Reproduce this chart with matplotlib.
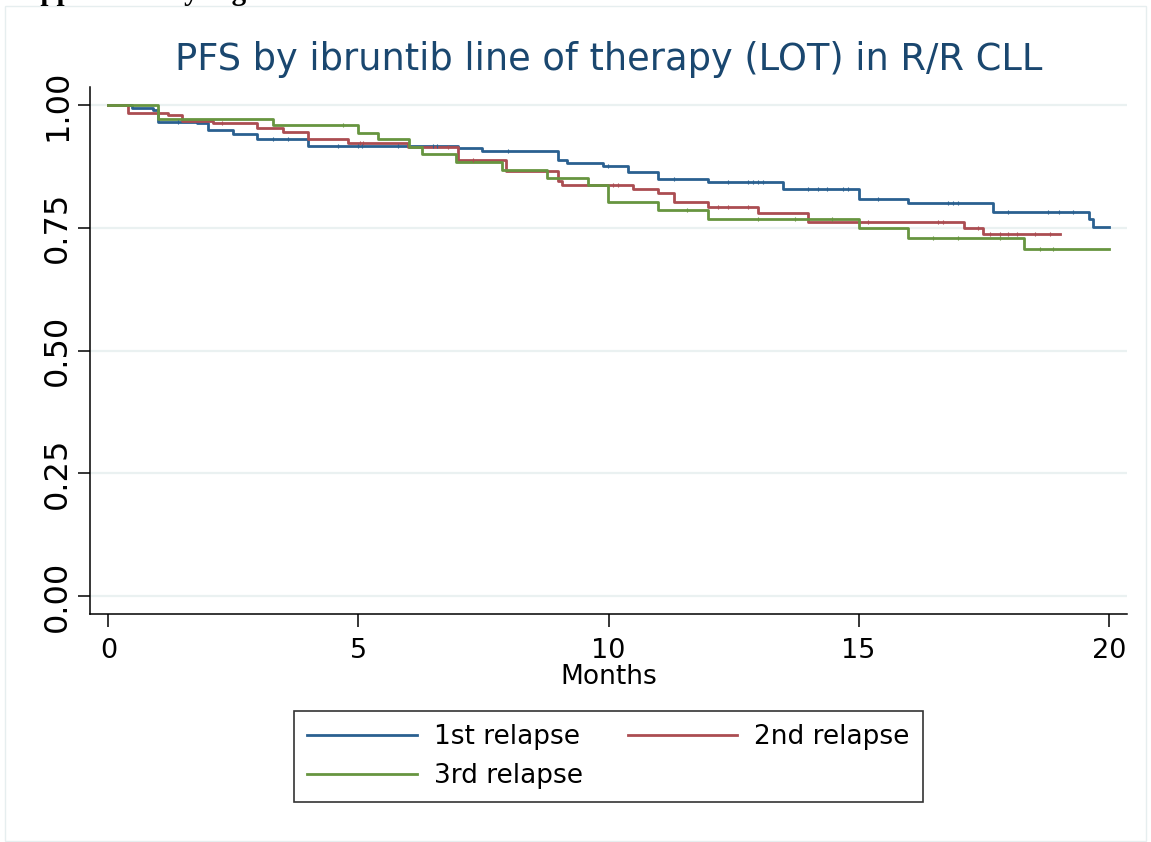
import numpy as np
import matplotlib.pyplot as plt
from matplotlib.patches import Rectangle

# ---------- data ----------
# step times (months) and survival after each step, per line of therapy
t_1st = [0, 0.47, 0.89, 0.99, 1.77, 2.0, 2.5, 2.97, 4.0, 7.0, 7.48, 9.0, 9.17, 9.89,
         10.38, 10.99, 11.98, 13.49, 15.0, 15.99, 17.68, 19.6, 19.69, 20.0]
s_1st = [1.0, 0.995, 0.990, 0.966, 0.963, 0.949, 0.942, 0.930, 0.917, 0.912, 0.906,
         0.889, 0.881, 0.876, 0.864, 0.849, 0.843, 0.830, 0.808, 0.800, 0.783, 0.767,
         0.752, 0.752]

t_2nd = [0, 0.39, 1.2, 1.47, 2.1, 2.97, 3.49, 4.0, 4.8, 6.0, 7.0, 7.96, 9.0, 9.08,
         10.49, 10.99, 11.31, 11.98, 12.99, 13.99, 17.1, 17.49, 19.02]
s_2nd = [1.0, 0.984, 0.980, 0.968, 0.963, 0.953, 0.946, 0.931, 0.922, 0.915, 0.889,
         0.866, 0.846, 0.837, 0.830, 0.821, 0.803, 0.793, 0.781, 0.762, 0.749, 0.737,
         0.737]

t_3rd = [0, 0.99, 3.3, 5.0, 5.4, 6.01, 6.28, 6.96, 7.88, 8.77, 9.58, 9.98, 10.99,
         11.98, 15.0, 15.99, 18.3, 20.0]
s_3rd = [1.0, 0.971, 0.960, 0.944, 0.931, 0.915, 0.900, 0.884, 0.867, 0.852, 0.837,
         0.803, 0.786, 0.768, 0.749, 0.730, 0.707, 0.707]

# censoring times (small tick marks on the curves)
c_1st = [1.39, 3.29, 3.59, 4.59, 4.99, 5.07, 5.79, 6.49, 6.57, 7.99, 9.99, 11.31,
         12.39, 12.79, 12.89, 12.99, 13.09, 13.99, 14.19, 14.37, 14.69, 14.79, 15.39,
         16.79, 16.89, 16.99, 17.98, 18.78, 19.0, 19.28]
c_2nd = [2.27, 5.03, 5.09, 6.79, 7.29, 10.09, 10.19, 12.19, 12.39, 12.79, 15.19,
         16.58, 16.68, 17.38, 17.62, 17.82, 17.98, 18.16, 18.52, 18.82]
c_3rd = [4.69, 11.57, 12.99, 13.72, 14.46, 16.48, 16.98, 17.82, 18.62, 18.88]

labels = ["1st relapse", "2nd relapse", "3rd relapse"]
colors = ["#2a6090", "#ab4d52", "#679540"]

title = "PFS by ibruntib line of therapy (LOT) in R/R CLL"
yticks = [0, 0.25, 0.5, 0.75, 1.0]
xticks = [0, 5, 10, 15, 20]


def surv_at(times, surv, x):
    idx = np.searchsorted(times, x, side="right") - 1
    return np.asarray(surv)[idx]


# ---------- figure ----------
fig = plt.figure(figsize=(11.51, 8.42), dpi=100)
ax = fig.add_axes([0.0782, 0.2708, 0.9007, 0.6263])

for y in yticks:
    ax.axhline(y, color="#eaf1f1", lw=1.6, zorder=0)

handles = []
series = [(t_1st, s_1st, c_1st), (t_2nd, s_2nd, c_2nd), (t_3rd, s_3rd, c_3rd)]
for (t, s, c), lab, col in zip(series, labels, colors):
    h, = ax.step(t, s, where="post", color=col, lw=2.0, label=lab, zorder=2)
    ax.plot(c, surv_at(t, s, c), ls="none", marker="|", ms=3, mew=0.8,
            color=col, zorder=3)
    handles.append(h)

ax.set_xlim(-0.366, 20.36)
ax.set_ylim(-0.0367, 1.0375)
ax.set_xticks(xticks)
ax.set_yticks(yticks)
ax.set_xticklabels([str(v) for v in xticks])
ax.set_yticklabels(["%.2f" % v for v in yticks])

for side in ["top", "right"]:
    ax.spines[side].set_visible(False)
for side in ["left", "bottom"]:
    ax.spines[side].set_linewidth(1.1)
ax.tick_params(axis="both", length=9, width=1.1)
ax.tick_params(axis="x", pad=8, labelsize=19.5)
ax.tick_params(axis="y", pad=3, labelrotation=90, labelsize=23)
for lbl in ax.get_yticklabels():
    lbl.set_va("center")

fig.text(0.5287, 1 - 60 / 842, title, ha="center", va="center",
         fontsize=26.5, color="#1a476f")
fig.text(0.5287, 1 - 677 / 842, "Months", ha="center", va="center", fontsize=19)

# legend, row-major order like the original
leg = fig.legend([handles[0], handles[2], handles[1]],
                 [labels[0], labels[2], labels[1]],
                 loc="center", bbox_to_anchor=(0.5285, 0.1015), ncol=2,
                 fontsize=19, handlelength=4.15, handletextpad=0.64,
                 columnspacing=1.7, labelspacing=0.5, borderpad=0.5,
                 fancybox=False, frameon=True)
leg.get_frame().set_edgecolor("black")
leg.get_frame().set_linewidth(1.2)

# partially cut-off caption line at the very top
fig.text(8 / 1151, 1 + 0.5 / 842, "Supplementary Figure", ha="left",
         va="baseline", fontsize=21, fontweight="bold",
         family="Liberation Serif")

# faint outer graph-region frame
fig.patches.append(Rectangle((5 / 1151, 1 / 842), 1141 / 1151, 835 / 842,
                             transform=fig.transFigure, fill=False,
                             edgecolor="#e6eeef", lw=1.0))

fig.savefig("out.png", dpi=100)
